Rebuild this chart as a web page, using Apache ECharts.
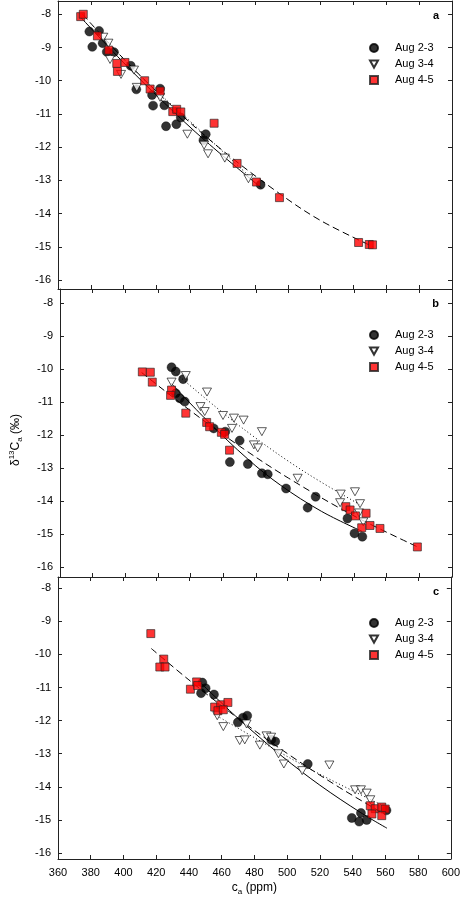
<!DOCTYPE html>
<html><head><meta charset="utf-8">
<script src="https://cdn.jsdelivr.net/npm/echarts@6/dist/echarts.min.js"></script>
<style>html,body{margin:0;padding:0;background:#fff}#c{width:463px;height:909px}</style>
</head><body><div id="c"></div>
<script>
// ---------- data ----------
const seriesNames = ['Aug 2-3', 'Aug 3-4', 'Aug 4-5'];
const panelLabels = ['a', 'b', 'c'];
const xMin = 360, xMax = 600, xStep = 20;
const yLimits = [[-16.27, -7.6], [-16.29, -7.57], [-16.18, -7.66]];

// panel a
const a_aug23 = [[379.1,-8.52],[385,-8.5],[380.9,-8.98],[387.2,-8.87],[389.7,-9.13],[394.1,-9.14],[404.3,-9.55],[407.7,-10.26],[422.2,-10.24],[417.3,-10.43],[417.9,-10.75],[424.8,-10.74],[425.8,-11.37],[432.1,-11.31],[434.8,-11.11],[450,-11.61],[448.6,-11.79],[483.4,-13.13]];
const a_aug34 = [[387.6,-8.69],[390.7,-8.87],[391.7,-9.36],[398.4,-9.81],[406.3,-9.68],[408,-10.2],[422.2,-10.5],[438.8,-11.61],[449,-11.94],[451.4,-12.2],[461.6,-12.33],[476,-12.95]];
const a_aug45 = [[373.8,-8.07],[375.4,-8.0],[384,-8.65],[390.9,-9.08],[395.8,-9.48],[400.8,-9.45],[396.2,-9.72],[412.8,-10.0],[416.1,-10.25],[422.2,-10.31],[429.9,-10.93],[432.3,-10.86],[434.8,-10.94],[455.1,-11.28],[469.1,-12.49],[480.9,-13.05],[494.9,-13.52],[543.1,-14.87],[549.6,-14.93],[551.6,-14.94]];
const a_fit23 = [[374,-8.1],[400,-9.46],[425,-10.68],[450,-11.82],[484,-13.23]];
const a_fit34 = [[386,-8.6],[410,-9.85],[440,-11.2],[476,-12.85]];
const a_fit45 = [[375,-8.0],[400,-9.34],[430,-10.79],[460,-12.09],[495,-13.4],[520,-14.21],[552,-15.0]];

// panel b
const b_aug23 = [[428.3,-9.94],[430.9,-10.07],[435.4,-10.3],[430.9,-10.73],[433.3,-10.88],[436.4,-10.98],[454.1,-11.79],[461.2,-11.89],[470,-12.16],[464,-12.81],[475,-12.87],[483.6,-13.15],[487.2,-13.18],[498.4,-13.61],[511.6,-14.19],[516.5,-13.86],[536,-14.52],[540.3,-14.97],[545.1,-15.07]];
const b_aug34 = [[437,-10.19],[428.3,-10.39],[450,-10.69],[446,-11.13],[448.6,-11.28],[459.8,-11.4],[466.5,-11.48],[472.4,-11.54],[465.3,-11.79],[483.6,-11.89],[478.7,-12.29],[481.1,-12.38],[505.5,-13.3],[531.9,-13.78],[540.6,-13.71],[531.5,-14.04],[543.7,-14.07],[543.1,-14.35],[545.7,-14.62]];
const b_aug45 = [[410.4,-10.08],[415.3,-10.09],[416.5,-10.39],[428.3,-10.63],[427.7,-10.79],[437,-11.33],[449.8,-11.61],[451.6,-11.74],[458.8,-11.91],[460.8,-11.97],[463.8,-12.45],[535,-14.16],[537.6,-14.26],[540.9,-14.44],[547.4,-14.36],[544.7,-14.8],[549.8,-14.73],[555.9,-14.82],[578.8,-15.38]];
const b_fit23 = [[428,-10.42],[450,-11.55],[475,-12.72],[495,-13.51],[520,-14.3],[545,-14.91]];
const b_fit34 = [[430,-10.09],[460,-11.33],[480,-12.09],[500,-12.79],[520,-13.42],[544,-14.11]];
const b_fit45 = [[410,-10.1],[440,-11.26],[470,-12.33],[500,-13.3],[540,-14.44],[579,-15.38]];

// panel c
const c_aug23 = [[448.2,-10.85],[450.2,-11.02],[447.4,-11.17],[455.3,-11.21],[469.9,-12.05],[473,-11.91],[475.6,-11.85],[490.3,-12.58],[492.7,-12.63],[512.6,-13.31],[539.5,-14.94],[544,-15.05],[545.1,-14.79],[548.6,-15.0],[560.7,-14.71]];
const c_aug34 = [[457.3,-11.85],[461,-12.18],[475.2,-12.1],[471,-12.6],[474.1,-12.58],[483.3,-12.74],[487.4,-12.46],[490.2,-12.5],[494.7,-13.0],[498,-13.31],[509.2,-13.51],[525.8,-13.34],[541.5,-14.09],[545.1,-14.09],[548.6,-14.19],[550.8,-14.39]];
const c_aug45 = [[416.7,-9.37],[424.6,-10.14],[422.2,-10.38],[425.4,-10.38],[440.9,-11.05],[444.7,-10.83],[445.3,-10.94],[455.7,-11.59],[459.4,-11.52],[463.8,-11.45],[457.7,-11.7],[461,-11.67],[550.8,-14.57],[553.8,-14.66],[557.8,-14.61],[559.9,-14.67],[551.8,-14.82],[557.8,-14.87]];
const c_fit23 = [[447,-10.85],[470,-11.93],[497,-13.08],[520,-13.95],[545,-14.78],[561,-15.25]];
const c_fit34 = [[457,-11.85],[490,-12.8],[520,-13.62],[560,-14.6]];
const c_fit45 = [[417,-9.82],[440,-10.77],[470,-11.93],[500,-12.99],[530,-13.96],[560,-14.84]];

const pointSets = [[a_aug23, a_aug34, a_aug45], [b_aug23, b_aug34, b_aug45], [c_aug23, c_aug34, c_aug45]];
const fitSets = [[a_fit23, a_fit34, a_fit45], [b_fit23, b_fit34, b_fit45], [c_fit23, c_fit34, c_fit45]];

// ---------- layout / style ----------
const FONT = '"Liberation Sans", Arial, Helvetica, sans-serif';
const gridBoxes = [{top: 1, height: 288}, {top: 289, height: 288}, {top: 577, height: 282}];
const legendOffsets = [41.5, 40.5, 40.5];
const axisColor = '#222';
const TRI = 'path://M0,0L10,0L5,9Z';
const SQR = 'path://M0,0L10,0L10,10L0,10Z';
const symbolStyles = [
  {symbol: 'circle', symbolSize: 9, itemStyle: {color: '#000', borderColor: '#000', borderWidth: 0.5}},
  {symbol: TRI, symbolSize: [9, 8], itemStyle: {color: '#fff', borderColor: '#000', borderWidth: 0.8}},
  {symbol: SQR, symbolSize: 8, itemStyle: {color: '#ff0000', borderColor: '#222', borderWidth: 0.8}}
];
const legendIcons = ['circle', TRI, SQR];
const lineTypes = ['solid', [1, 2.5], [7, 4]];

const isInt = v => Math.abs(v - Math.round(v)) < 1e-6;

const grid = [], xAxis = [], yAxis = [], series = [], legend = [], title = [];
gridBoxes.forEach((g, i) => {
  grid.push({left: 58, right: 11, top: g.top, height: g.height, containLabel: false});
  const xCommon = {
    type: 'value', gridIndex: i, min: xMin, max: xMax, interval: xStep,
    axisLine: {show: true, onZero: false, lineStyle: {color: axisColor, width: 1}},
    axisTick: {show: true, inside: true, length: 4, lineStyle: {color: axisColor}},
    splitLine: {show: false}
  };
  xAxis.push(Object.assign({}, xCommon, {
    position: 'bottom',
    axisLabel: {show: i === 2, color: '#000', fontSize: 11, fontFamily: FONT, margin: 8},
    name: i === 2 ? '{n|c}{sub|a}{n| (ppm)}' : '',
    nameLocation: 'middle', nameGap: 21,
    nameTextStyle: {color: '#000', fontSize: 12, fontFamily: FONT,
      rich: {
        n: {fontSize: 12, lineHeight: 16, fontFamily: FONT, color: '#000'},
        sub: {fontSize: 8, lineHeight: 8, fontFamily: FONT, color: '#000', verticalAlign: 'bottom'}
      }}
  }));
  xAxis.push(Object.assign({}, xCommon, {position: 'top', axisLabel: {show: false}}));
  const [lo, hi] = yLimits[i];
  const yCommon = {
    type: 'value', gridIndex: i, min: lo, max: hi, minInterval: 1, maxInterval: 1, splitNumber: 8,
    axisLine: {show: true, onZero: false, lineStyle: {color: axisColor, width: 1}},
    axisTick: {show: true, inside: true, length: 4, lineStyle: {color: axisColor}},
    splitLine: {show: false}
  };
  yAxis.push(Object.assign({}, yCommon, {
    position: 'left',
    axisLabel: {color: '#000', fontSize: 11, fontFamily: FONT, margin: 7, showMinLabel: false, showMaxLabel: false,
      formatter: v => isInt(v) ? String(Math.round(v)) : ''},
    name: i === 1 ? '{n|δ}{sup|13}{n|C}{sub|a}{n| (‰)}' : '',
    nameLocation: 'middle', nameGap: 36, nameRotate: 90,
    nameTextStyle: {color: '#000', fontSize: 12, fontFamily: FONT, padding: [0, 14, 0, 0],
      rich: {
        n: {fontSize: 12, lineHeight: 16, fontFamily: FONT, color: '#000'},
        sup: {fontSize: 8, lineHeight: 8, fontFamily: FONT, color: '#000', verticalAlign: 'top'},
        sub: {fontSize: 8, lineHeight: 8, fontFamily: FONT, color: '#000', verticalAlign: 'bottom'}
      }}
  }));
  yAxis.push(Object.assign({}, yCommon, {position: 'right', axisLabel: {show: false}}));

  fitSets[i].forEach((pts, k) => {
    series.push({
      name: 'fit ' + panelLabels[i] + k, type: 'line', xAxisIndex: 2 * i, yAxisIndex: 2 * i,
      data: pts, smooth: 0.35, showSymbol: false, symbol: 'none', silent: true, z: 2,
      lineStyle: {color: '#000', width: 1, type: lineTypes[k]}
    });
  });
  pointSets[i].forEach((pts, k) => {
    series.push(Object.assign({
      name: seriesNames[k], type: 'scatter', xAxisIndex: 2 * i, yAxisIndex: 2 * i,
      data: pts, z: 3 + k, clip: false
    }, symbolStyles[k]));
  });
  legend.push({
    data: seriesNames.map((n, k) => ({name: n, icon: legendIcons[k]})),
    orient: 'vertical', left: 369, top: g.top + legendOffsets[i], padding: 0,
    itemWidth: 8, itemHeight: 8, itemGap: 5, selectedMode: false, symbolKeepAspect: true,
    textStyle: {color: '#000', fontSize: 11, fontFamily: FONT, padding: [0, 0, 0, 12]}
  });
  title.push({
    text: panelLabels[i], right: 19, top: g.top + 4,
    textStyle: {color: '#000', fontSize: 11, fontWeight: 'bold', fontFamily: FONT}
  });
});

const chart = echarts.init(document.getElementById('c'), null, {renderer: 'canvas'});
chart.setOption({
  backgroundColor: '#fff', animation: false,
  grid, xAxis, yAxis, series, legend, title
});
</script>
</body></html>
